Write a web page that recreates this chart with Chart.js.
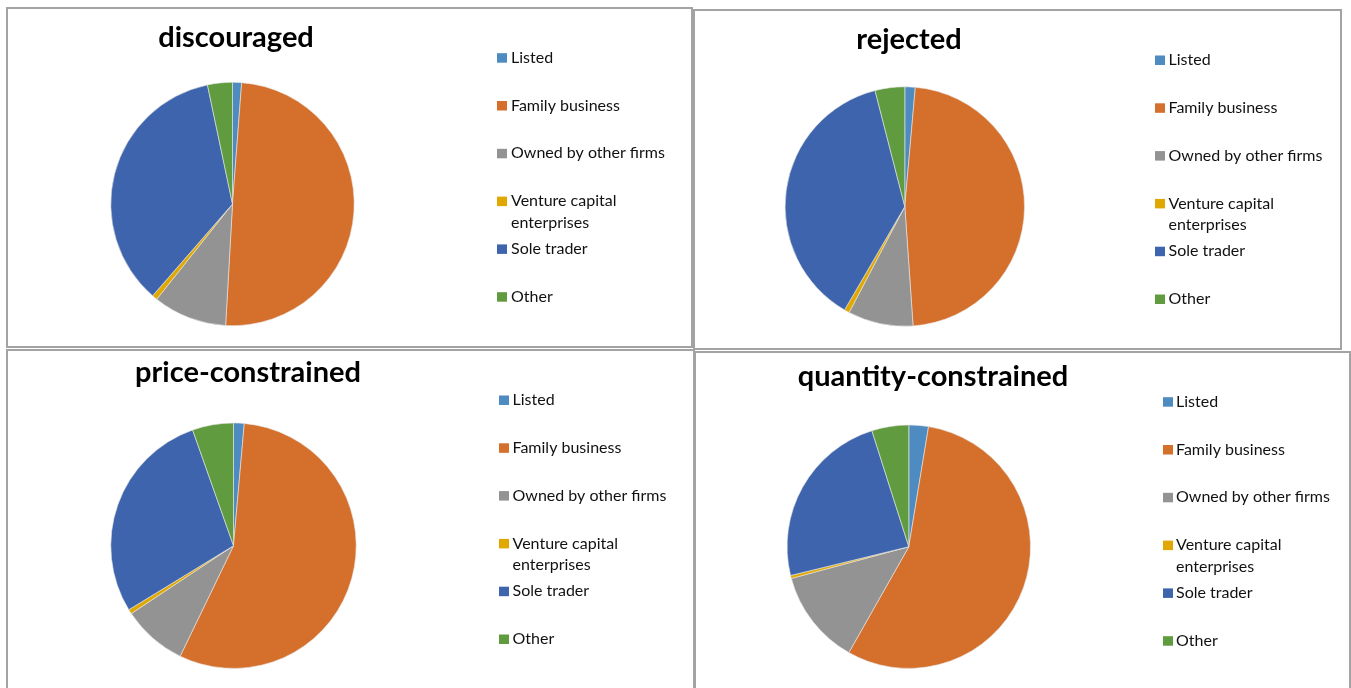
<!DOCTYPE html>
<html lang="en">
<head>
<meta charset="UTF-8">
<title>Firm ownership by credit outcome</title>
<script src="https://cdn.jsdelivr.net/npm/chart.js"></script>
<style>
  body { margin: 0; background: #fff; overflow: hidden; font-family: Lato, sans-serif; }
  .panel { position: absolute; box-sizing: border-box; border: 2px solid #a3a3a3; background: #fff; }
  .panel canvas { display: block; }
</style>
</head>
<body>
<div class="panel" id="p0"><canvas id="c0"></canvas></div>
<div class="panel" id="p1"><canvas id="c1"></canvas></div>
<div class="panel" id="p2"><canvas id="c2"></canvas></div>
<div class="panel" id="p3"><canvas id="c3"></canvas></div>

<script>
// ownership categories, same order in every pie (clockwise from 12 o'clock)
const categories = ['Listed', 'Family business', 'Owned by other firms',
                    'Venture capital enterprises', 'Sole trader', 'Other'];
const sliceColors = ['#4e8bc1', '#d46f2c', '#939393', '#e0a800', '#3d64ac', '#609b3f'];

// share of firms (%) in each group
const discouraged         = [1.2, 49.7, 9.8, 0.7, 35.3, 3.3];
const rejected            = [1.4, 47.5, 8.8, 0.7, 37.6, 4.0];
const priceConstrained    = [1.4, 55.7, 8.5, 0.6, 28.3, 5.4];
const quantityConstrained = [2.6, 55.6, 12.6, 0.4, 23.9, 4.9];

const titles = ['discouraged', 'rejected', 'price-constrained', 'quantity-constrained'];
const series = [discouraged, rejected, priceConstrained, quantityConstrained];

// panel boxes and where things sit inside them (page pixels)
const panels = [
  { left: 6,   top: 7,   width: 687, height: 341, cx: 232.5, cy: 204,   r: 122, titleX: 236, titleY: 46.5,  boxX: 497,  textX: 511,    legendY: 57.7 },
  { left: 693, top: 9,   width: 649, height: 341, cx: 904.8, cy: 206.5, r: 120, titleX: 909, titleY: 48.5,  boxX: 1155, textX: 1168.5, legendY: 60 },
  { left: 6,   top: 349, width: 689, height: 360, cx: 233.5, cy: 545.7, r: 123, titleX: 248, titleY: 381.5, boxX: 499,  textX: 512.5,  legendY: 400 },
  { left: 694, top: 351, width: 657, height: 360, cx: 908.8, cy: 546.7, r: 122, titleX: 933, titleY: 386,   boxX: 1163, textX: 1176,   legendY: 401.7 }
];

const BORDER = 2;
const LEGEND_STEP = 47.8;
const LINE_GAP = 21.5;
const WRAP_WIDTH = 165;

function wrapText(ctx, text, maxWidth) {
  const words = text.split(' ');
  const lines = [];
  let line = '';
  words.forEach(w => {
    const test = line ? line + ' ' + w : w;
    if (line && ctx.measureText(test).width > maxWidth) {
      lines.push(line);
      line = w;
    } else {
      line = test;
    }
  });
  if (line) lines.push(line);
  return lines;
}

// title and legend drawn by hand so they can sit where the panel wants them
const panelText = {
  id: 'panelText',
  afterDraw(chart, args, opts) {
    const ctx = chart.ctx;
    ctx.save();
    ctx.fillStyle = '#000';
    ctx.font = 'bold 29px Lato';
    ctx.textAlign = 'center';
    ctx.textBaseline = 'alphabetic';
    ctx.fillText(opts.title, opts.titleX, opts.titleY);

    ctx.font = '16px Lato';
    ctx.textAlign = 'left';
    ctx.textBaseline = 'middle';
    const colors = chart.data.datasets[0].backgroundColor;
    chart.data.labels.forEach((label, i) => {
      const y = opts.legendY + i * LEGEND_STEP;
      ctx.fillStyle = colors[i];
      ctx.fillRect(opts.boxX, y - 4.5, 10, 9.5);
      ctx.fillStyle = '#111';
      wrapText(ctx, label, WRAP_WIDTH).forEach((ln, j) => {
        ctx.fillText(ln, opts.textX, y + j * LINE_GAP);
      });
    });
    ctx.restore();
  }
};

panels.forEach((p, k) => {
  const div = document.getElementById('p' + k);
  div.style.left = p.left + 'px';
  div.style.top = p.top + 'px';
  div.style.width = p.width + 'px';
  div.style.height = p.height + 'px';

  const canvas = document.getElementById('c' + k);
  const w = p.width - 2 * BORDER;
  const h = p.height - 2 * BORDER;
  canvas.width = w;
  canvas.height = h;

  // page -> canvas coordinates
  const ox = p.left + BORDER;
  const oy = p.top + BORDER;
  const cx = p.cx - ox;
  const cy = p.cy - oy;

  new Chart(canvas, {
    type: 'pie',
    data: {
      labels: categories,
      datasets: [{
        data: series[k],
        backgroundColor: sliceColors,
        borderColor: '#e8e8e8',
        borderWidth: 0.6
      }]
    },
    options: {
      responsive: false,
      animation: false,
      layout: {
        padding: {
          left: cx - p.r,
          right: w - (cx + p.r),
          top: cy - p.r,
          bottom: h - (cy + p.r)
        }
      },
      plugins: {
        legend: { display: false },
        title: { display: false },
        tooltip: { enabled: false },
        panelText: {
          title: titles[k],
          titleX: p.titleX - ox,
          titleY: p.titleY - oy,
          boxX: p.boxX - ox,
          textX: p.textX - ox,
          legendY: p.legendY - oy
        }
      }
    },
    plugins: [panelText]
  });
});
</script>
</body>
</html>
